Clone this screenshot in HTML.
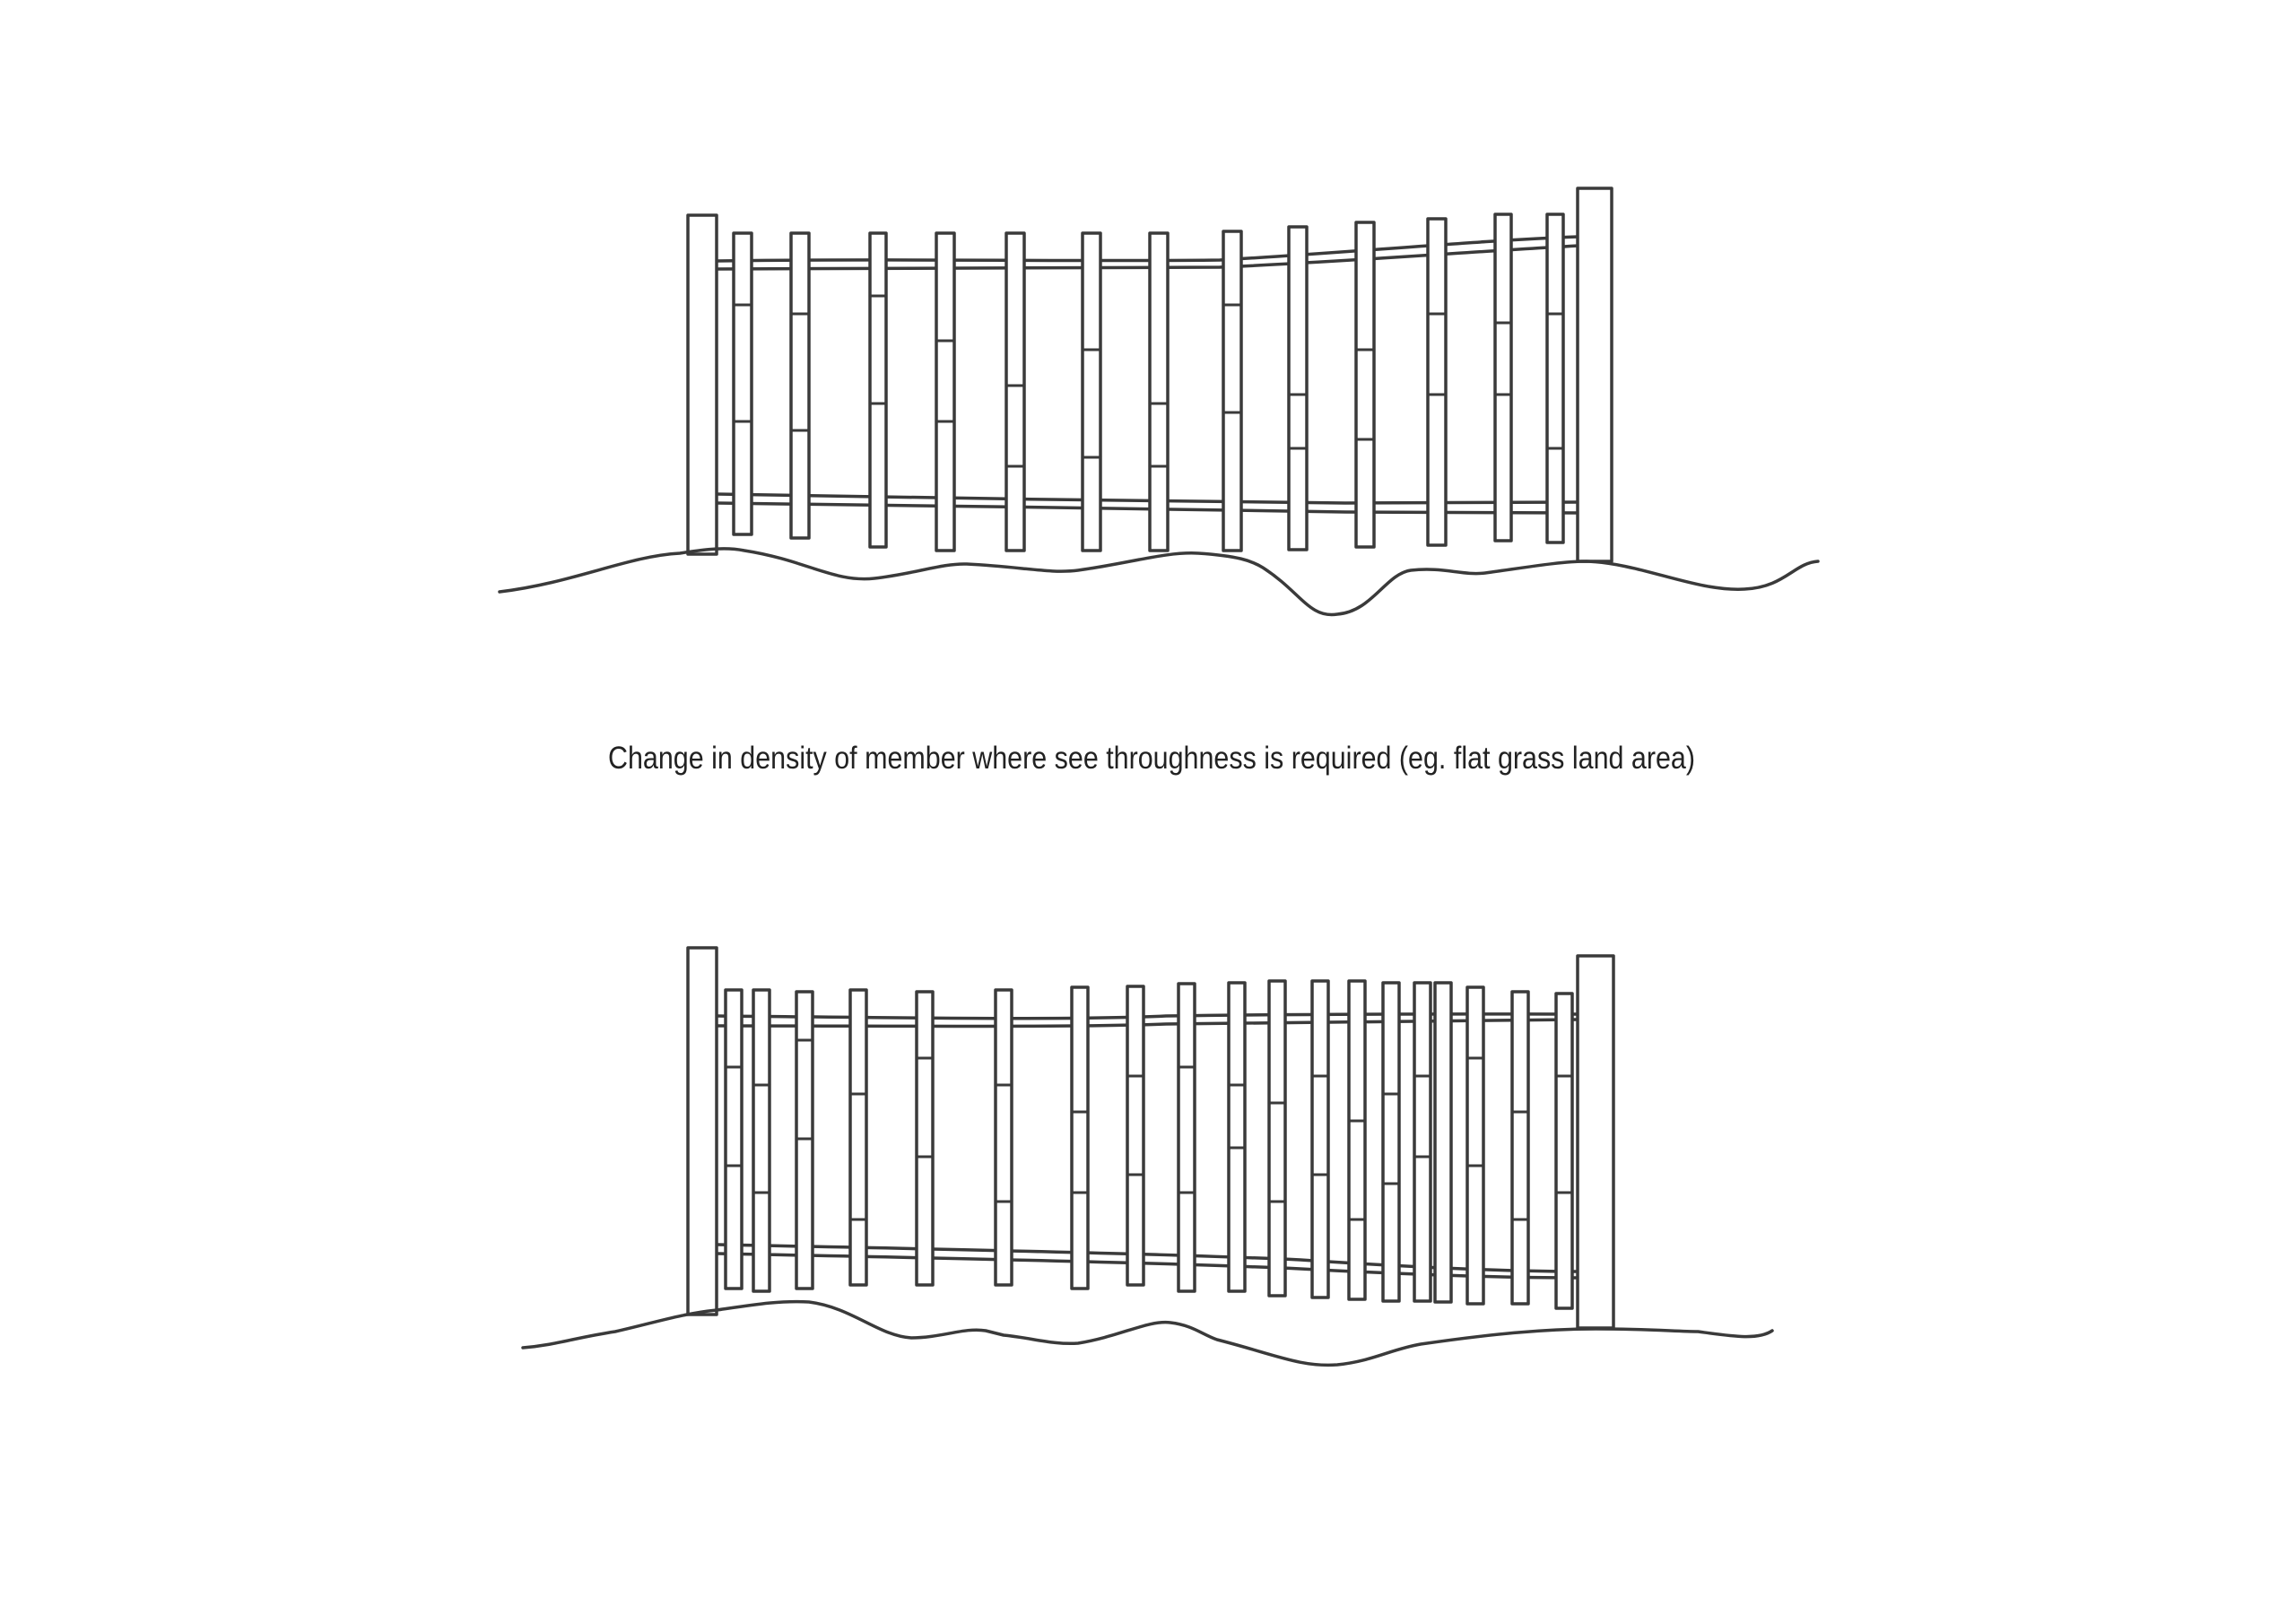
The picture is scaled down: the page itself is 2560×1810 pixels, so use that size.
<!DOCTYPE html>
<html><head><meta charset="utf-8"><style>
html,body{margin:0;padding:0;background:#fff;}
svg{display:block;}
</style></head><body>
<svg width="2560" height="1810" viewBox="0 0 2560 1810" xmlns="http://www.w3.org/2000/svg">
<g fill="none" stroke="#3a3a3a" stroke-width="3.5" stroke-linejoin="round" stroke-linecap="round">
<path d="M800 291 C1000 288 1200 292 1360 290 C1500 282 1650 268 1760 264"/>
<path d="M800 300 C1000 298 1200 300 1360 298 C1500 292 1650 280 1760 274"/>
<path d="M800 551 C1000 554 1300 560 1500 561 C1650 560 1720 560 1760 560"/>
<path d="M800 561 C1000 563 1300 568 1500 571 C1650 571 1720 572 1760 572"/>
<rect x="767" y="240" width="32" height="378" fill="#fff"/>
<rect x="1759" y="210" width="38" height="416" fill="#fff"/>
<g fill="#fff">
<rect x="818" y="260" width="20" height="336"/>
<rect x="882" y="260" width="20" height="340"/>
<rect x="970" y="260" width="18" height="350"/>
<rect x="1044" y="260" width="20" height="354"/>
<rect x="1122" y="260" width="20" height="354"/>
<rect x="1207" y="260" width="20" height="354"/>
<rect x="1282" y="260" width="20" height="354"/>
<rect x="1364" y="258" width="20" height="356"/>
<rect x="1437" y="253" width="20" height="360"/>
<rect x="1512" y="248" width="20" height="362"/>
<rect x="1592" y="244" width="20" height="364"/>
<rect x="1667" y="239" width="18" height="364"/>
<rect x="1725" y="239" width="18" height="366"/>
</g>
<g stroke-width="3">
<path d="M818 340h20M818 470h20M882 350h20M882 480h20M970 330h18M970 450h18M1044 380h20M1044 470h20M1122 430h20M1122 520h20M1207 390h20M1207 510h20M1282 450h20M1282 520h20M1364 340h20M1364 460h20M1437 440h20M1437 500h20M1512 390h20M1512 490h20M1592 350h20M1592 440h20M1667 360h18M1667 440h18M1725 350h18M1725 500h18"/>
</g>
<path d="M557 660 C640 650 700 620 758 617 C790 612 810 610 830 614 C900 625 930 650 975 645 C1020 640 1050 628 1078 629 C1140 632 1170 640 1202 636 C1260 628 1300 615 1336 617 C1380 620 1395 625 1408 633 C1450 660 1460 690 1491 685 C1530 682 1545 640 1573 636 C1610 632 1630 642 1656 639 C1700 633 1740 626 1769 626 C1830 628 1890 660 1945 657 C1990 655 2000 628 2027 626"/>

<path d="M800 1133 C1000 1135 1200 1138 1300 1133 C1500 1130 1650 1131 1760 1131"/>
<path d="M800 1144 C1000 1144 1200 1146 1300 1142 C1500 1139 1650 1138 1760 1137"/>
<path d="M800 1388 C1000 1392 1300 1398 1450 1405 C1600 1415 1700 1418 1760 1418"/>
<path d="M800 1398 C1000 1402 1300 1408 1450 1415 C1600 1423 1700 1425 1760 1425"/>
<rect x="767" y="1057" width="32" height="409" fill="#fff"/>
<rect x="1759" y="1066" width="40" height="415" fill="#fff"/>
<g fill="#fff">
<rect x="809" y="1104" width="18" height="333"/>
<rect x="840" y="1104" width="18" height="336"/>
<rect x="888" y="1106" width="18" height="331"/>
<rect x="948" y="1104" width="18" height="329"/>
<rect x="1022" y="1106" width="18" height="327"/>
<rect x="1110" y="1104" width="18" height="329"/>
<rect x="1195" y="1101" width="18" height="336"/>
<rect x="1257" y="1100" width="18" height="333"/>
<rect x="1314" y="1097" width="18" height="343"/>
<rect x="1370" y="1096" width="18" height="344"/>
<rect x="1415" y="1094" width="18" height="351"/>
<rect x="1463" y="1094" width="18" height="353"/>
<rect x="1504" y="1094" width="18" height="355"/>
<rect x="1542" y="1096" width="18" height="355"/>
<rect x="1577" y="1096" width="18" height="355"/>
<rect x="1600" y="1096" width="18" height="356"/>
<rect x="1636" y="1101" width="18" height="353"/>
<rect x="1686" y="1106" width="18" height="348"/>
<rect x="1735" y="1108" width="18" height="351"/>
</g>
<g stroke-width="3">
<path d="M809 1190h18M809 1300h18M840 1210h18M840 1330h18M888 1160h18M888 1270h18M948 1220h18M948 1360h18M1022 1180h18M1022 1290h18M1110 1210h18M1110 1340h18M1195 1240h18M1195 1330h18M1257 1200h18M1257 1310h18M1314 1190h18M1314 1330h18M1370 1210h18M1370 1280h18M1415 1230h18M1415 1340h18M1463 1200h18M1463 1310h18M1504 1250h18M1504 1360h18M1542 1220h18M1542 1320h18M1577 1200h18M1577 1290h18M1636 1180h18M1636 1300h18M1686 1240h18M1686 1360h18M1735 1200h18M1735 1330h18"/>
</g>
<path d="M583 1503 C620 1500 640 1492 686 1485 C730 1475 760 1465 799 1461 C840 1455 870 1450 902 1452 C950 1458 980 1490 1016 1492 C1050 1492 1075 1480 1099 1484 L1119 1489 C1150 1492 1175 1500 1202 1498 C1250 1490 1280 1472 1305 1475 C1330 1478 1340 1488 1357 1494 C1420 1510 1450 1525 1491 1522 C1530 1518 1550 1505 1584 1499 C1660 1488 1720 1482 1780 1482 C1840 1482 1870 1485 1893 1485 C1930 1490 1960 1495 1976 1484"/>
</g>
<text x="678" y="857" font-family="Liberation Sans, sans-serif" font-size="35" fill="#222" textLength="1212" lengthAdjust="spacingAndGlyphs">Change in density of member where see throughness is required (eg. flat grass land area)</text>
</svg>
</body></html>
